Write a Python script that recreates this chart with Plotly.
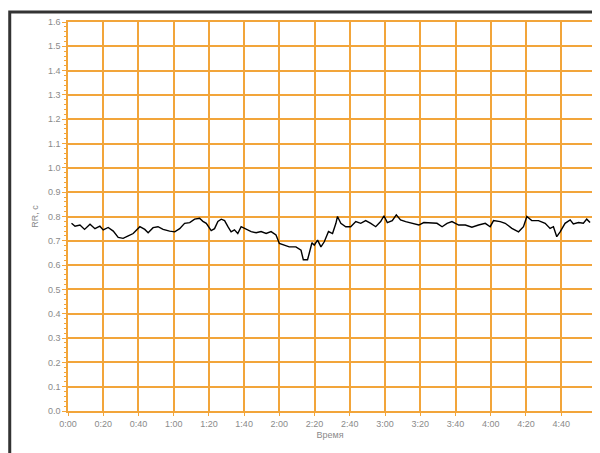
import plotly.graph_objects as go

# time (s) and RR interval (s)
time_s = [2.0, 4.0, 6.8, 9.4, 12.5, 15.3, 18.1, 20.0, 22.8, 25.7, 28.5, 31.3, 34.2, 37.0,
          40.8, 43.6, 45.5, 48.3, 51.1, 54.0, 57.7, 60.6, 63.4, 66.2, 69.1, 71.9, 74.7,
          76.6, 78.5, 81.3, 83.2, 85.1, 87.0, 88.9, 90.8, 92.6, 94.5, 96.4, 98.3, 101.1,
          104.0, 106.8, 109.6, 112.5, 115.3, 118.1, 120.0, 122.8, 125.6, 129.4, 132.3,
          133.6, 136.0, 136.9, 138.5, 139.8, 141.7, 143.6, 145.5, 147.9, 150.2, 152.1,
          153.0, 154.9, 157.7, 160.5, 163.4, 166.2, 169.0, 171.9, 174.7, 177.5, 179.4,
          181.3, 184.1, 186.4, 188.8, 191.7, 195.4, 199.2, 202.0, 205.8, 209.5, 212.4,
          215.2, 218.0, 221.8, 225.6, 229.3, 233.1, 236.9, 239.7, 241.6, 245.4, 248.2,
          252.0, 255.8, 258.6, 260.5, 263.3, 267.1, 270.9, 273.7, 275.6, 277.5, 279.4,
          282.2, 285.1, 286.9, 289.8, 292.6, 294.5, 296.4]
rr_s = [0.772, 0.760, 0.765, 0.747, 0.768, 0.750, 0.760, 0.745, 0.755, 0.740, 0.714,
        0.710, 0.720, 0.730, 0.758, 0.747, 0.733, 0.754, 0.758, 0.747, 0.740, 0.737,
        0.750, 0.772, 0.775, 0.789, 0.793, 0.780, 0.772, 0.742, 0.750, 0.780, 0.789,
        0.783, 0.758, 0.737, 0.745, 0.730, 0.758, 0.747, 0.738, 0.733, 0.738, 0.730,
        0.738, 0.724, 0.689, 0.682, 0.675, 0.675, 0.661, 0.622, 0.622, 0.647, 0.692,
        0.682, 0.703, 0.675, 0.696, 0.738, 0.730, 0.772, 0.800, 0.772, 0.758, 0.758,
        0.779, 0.772, 0.783, 0.772, 0.758, 0.779, 0.803, 0.775, 0.783, 0.807, 0.786,
        0.779, 0.772, 0.765, 0.775, 0.775, 0.772, 0.758, 0.772, 0.779, 0.765, 0.765,
        0.756, 0.765, 0.772, 0.758, 0.783, 0.779, 0.772, 0.751, 0.737, 0.758, 0.800,
        0.783, 0.783, 0.772, 0.751, 0.758, 0.717, 0.737, 0.772, 0.786, 0.769, 0.775,
        0.772, 0.789, 0.775]

x_tick_vals = [0, 20, 40, 60, 80, 100, 120, 140, 160, 180, 200, 220, 240, 260, 280]
x_tick_text = ["0:00", "0:20", "0:40", "1:00", "1:20", "1:40", "2:00", "2:20", "2:40",
               "3:00", "3:20", "3:40", "4:00", "4:20", "4:40"]
y_tick_vals = [0.0, 0.1, 0.2, 0.3, 0.4, 0.5, 0.6, 0.7, 0.8, 0.9, 1.0, 1.1, 1.2, 1.3,
               1.4, 1.5, 1.6]

ORANGE = "#F2A53A"
GRAY = "#8a8a8a"

fig = go.Figure()
fig.add_trace(go.Scatter(x=time_s, y=rr_s, mode="lines",
                         line=dict(color="black", width=1.4), showlegend=False))

fig.update_layout(
    width=592, height=445,
    margin=dict(l=60, r=6, t=14, b=42),
    paper_bgcolor="white", plot_bgcolor="white",
    font=dict(family="Arial, Liberation Sans, sans-serif", size=9, color=GRAY),
    xaxis=dict(range=[0, 297.5], tickvals=x_tick_vals, ticktext=x_tick_text,
               showgrid=True, gridcolor=ORANGE, gridwidth=1.5,
               showline=True, linecolor=ORANGE, linewidth=1.5, mirror=True,
               ticks="outside", ticklen=3, tickcolor=ORANGE, zeroline=False,
               title=dict(text="Время", font=dict(size=9, color=GRAY), standoff=4)),
    yaxis=dict(range=[0, 1.6], tickvals=y_tick_vals, tickformat=".1f",
               showgrid=True, gridcolor=ORANGE, gridwidth=1.5,
               showline=True, linecolor=ORANGE, linewidth=1.5, mirror=True,
               ticks="outside", ticklen=4, tickcolor=ORANGE, zeroline=False,
               minor=dict(dtick=0.02, ticks="outside", ticklen=2, tickcolor=ORANGE,
                          showgrid=False),
               title=dict(text="RR, с", font=dict(size=9, color=GRAY), standoff=8)),
    shapes=[dict(type="rect", xref="paper", yref="paper",
                 x0=-0.1112, x1=1.06, y0=-0.16, y1=1.0257,
                 line=dict(color="#333333", width=3), layer="above")],
)

fig.write_html("out.html")
